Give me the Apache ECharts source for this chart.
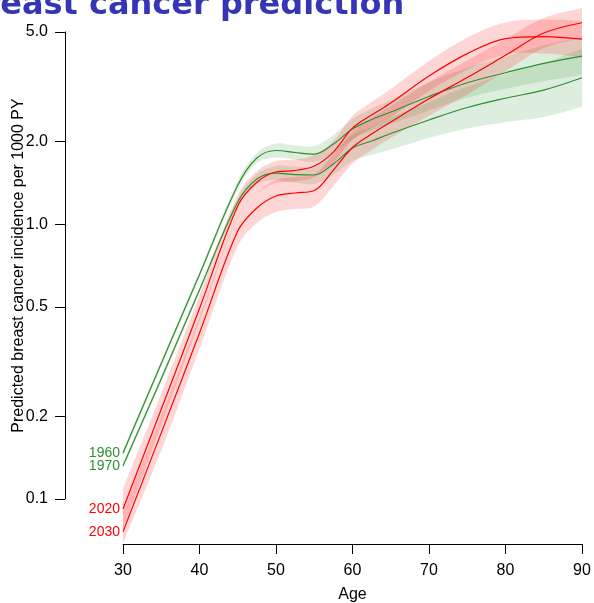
<!DOCTYPE html>
<html><head><meta charset="utf-8">
<script src="https://cdn.jsdelivr.net/npm/echarts@6/dist/echarts.min.js"></script>
<style>html,body{margin:0;padding:0;background:#fff}#c{width:594px;height:603px}</style>
</head><body><div id="c"></div>
<script>
const ages = [30,35,40,45,47.5,50,52.5,55,57.5,60,62.5,65,70,75,80,85,90];

const c1960   = [0.147,0.311,0.656,1.384,1.740,1.853,1.822,1.799,1.956,2.218,2.402,2.557,2.914,3.269,3.554,3.846,4.088];
const c1960Lo = [0.143,0.303,0.640,1.338,1.668,1.747,1.718,1.682,1.814,2.040,2.191,2.313,2.591,2.883,3.108,3.308,3.487];
const c1960Hi = [0.151,0.319,0.673,1.431,1.815,1.965,1.932,1.924,2.109,2.412,2.634,2.827,3.277,3.707,4.064,4.472,4.793];

const c1970   = [0.132,0.274,0.576,1.203,1.460,1.534,1.515,1.509,1.655,1.892,2.006,2.136,2.393,2.656,2.871,3.074,3.409];
const c1970Lo = [0.129,0.267,0.562,1.163,1.400,1.447,1.417,1.399,1.509,1.697,1.784,1.868,2.058,2.228,2.348,2.452,2.674];
const c1970Hi = [0.135,0.281,0.591,1.244,1.523,1.627,1.620,1.627,1.815,2.110,2.256,2.442,2.783,3.167,3.510,3.854,4.346];

const c2020   = [0.092,0.212,0.493,1.164,1.420,1.547,1.567,1.627,1.829,2.236,2.494,2.758,3.458,4.171,4.733,4.813,4.713];
const c2020Lo = [0.0778,0.185,0.442,1.062,1.295,1.411,1.429,1.484,1.668,2.022,2.237,2.453,3.049,3.648,4.139,4.174,4.053];
const c2020Hi = [0.109,0.242,0.550,1.276,1.557,1.696,1.718,1.784,2.006,2.472,2.781,3.101,3.921,4.769,5.412,5.550,5.480];

const c2030   = [0.076,0.174,0.402,0.944,1.145,1.266,1.298,1.325,1.573,1.900,2.127,2.352,2.857,3.415,4.112,4.956,5.403];
const c2030Lo = [0.069,0.150,0.352,0.832,1.010,1.107,1.135,1.159,1.376,1.662,1.860,2.057,2.478,2.962,3.596,4.370,4.765];
const c2030Hi = [0.0899,0.202,0.460,1.071,1.298,1.448,1.484,1.515,1.799,2.172,2.432,2.689,3.294,3.938,4.702,5.620,6.127];

const yTicks = [0.1,0.2,0.5,1,2,5];
const titleText = 'Breast cancer prediction';
const yName = 'Predicted breast cancer incidence per 1000 PY';
const xName = 'Age';

const GREEN = '#2f8f2f', RED = '#ff0000';
const GREEN_BAND = 'rgba(34,139,34,0.15)', RED_BAND = 'rgba(255,0,0,0.16)';

function band(lo, hi, fill){
  return {
    type:'custom', silent:true, clip:false, z:1,
    encode:{x:0, y:[1,2]},
    data: ages.map((a,i)=>[a, lo[i], hi[i]]),
    renderItem: function(params, api){
      if (params.dataIndex !== 0) return null;
      const up = ages.map((a,i)=>api.coord([a, hi[i]]));
      const dn = ages.map((a,i)=>api.coord([a, lo[i]])).reverse();
      const pts = [up[0]].concat(up, [up[up.length-1], dn[0]], dn, [dn[dn.length-1]]);
      return {type:'polygon', shape:{points:pts, smooth:0.35}, style:{fill:fill}};
    }
  };
}
function line(name, vals, color){
  return {
    type:'line', name:name, clip:false, z:3,
    smooth:0.35, showSymbol:true, symbol:'circle', symbolSize:0, silent:true,
    lineStyle:{color:color, width:1.2}, itemStyle:{color:color},
    data: ages.map((a,i)=> i===0 ? {value:[a, vals[i]], label:{show:true, position:'left', distance:3, formatter:name, color:color, fontSize:14, fontFamily:'Liberation Sans'}} : [a, vals[i]])
  };
}

const chart = echarts.init(document.getElementById('c'), null, {renderer:'canvas'});
chart.setOption({
  animation:false,
  backgroundColor:'#fff',
  textStyle:{fontFamily:'Liberation Sans'},
  graphic:[{type:'text', x:-40, y:6, z:10, style:{text:titleText, font:'bold 32px "DejaVu Sans"', fill:'#3535b5', verticalAlign:'middle'}}],
  grid:{left:123, right:12, top:32, bottom:104, containLabel:false, outerBoundsMode:'none'},
  xAxis:{
    type:'value', min:30, max:90, interval:10, offset:45,
    name:xName, nameLocation:'middle', nameGap:43, nameMoveOverlap:false,
    nameTextStyle:{fontSize:16, color:'#000', fontFamily:'Liberation Sans'},
    axisLine:{show:true, lineStyle:{color:'#000', width:1}},
    axisTick:{show:true, length:10, lineStyle:{color:'#000'}},
    axisLabel:{fontSize:16, color:'#000', margin:19, fontFamily:'Liberation Sans'},
    splitLine:{show:false}
  },
  yAxis:{
    type:'log', logBase:10, min:0.1, max:5, offset:58,
    name:yName, nameLocation:'middle', nameGap:38, nameRotate:90, nameMoveOverlap:false,
    nameTextStyle:{fontSize:16, color:'#000', fontFamily:'Liberation Sans'},
    axisLine:{show:true, lineStyle:{color:'#000', width:1}},
    axisTick:{show:true, length:10, customValues:yTicks, lineStyle:{color:'#000'}},
    axisLabel:{fontSize:16, color:'#000', margin:17, customValues:yTicks, fontFamily:'Liberation Sans', formatter:v=>Number(v).toFixed(1)},
    splitLine:{show:false}, minorTick:{show:false}
  },
  series:[
    band(c1960Lo, c1960Hi, GREEN_BAND),
    band(c1970Lo, c1970Hi, GREEN_BAND),
    band(c2020Lo, c2020Hi, RED_BAND),
    band(c2030Lo, c2030Hi, RED_BAND),
    line('1960', c1960, GREEN),
    line('1970', c1970, GREEN),
    line('2020', c2020, RED),
    line('2030', c2030, RED)
  ]
});
</script></body></html>
